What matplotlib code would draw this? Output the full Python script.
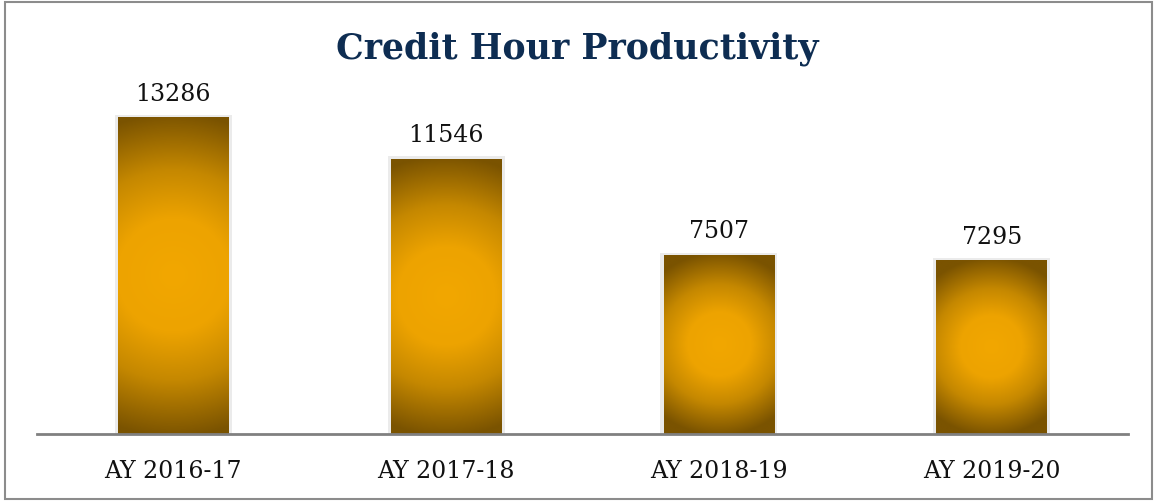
import numpy as np
import matplotlib.pyplot as plt
from matplotlib.colors import LinearSegmentedColormap
from matplotlib.patches import Rectangle

# Data
years = ['AY 2016-17', 'AY 2017-18', 'AY 2018-19', 'AY 2019-20']
credit_hours = [13286, 11546, 7507, 7295]

plt.rcParams['font.family'] = ['DejaVu Serif']

fig = plt.figure(figsize=(11.54, 5.02), dpi=100)
ax = fig.add_axes([37 / 1154, 67 / 502, 1091 / 1154, 350 / 502])

# Radial gradient: bright orange in the middle, dark brown towards top/bottom/corners
cmap = LinearSegmentedColormap.from_list(
    'gold', [(0, '#F2A700'), (0.35, '#EDA300'), (0.65, '#C58800'), (1.0, '#7A5300')])

width = 0.405
x = np.arange(len(years))
bars = ax.bar(x, credit_hours, width, color='none', zorder=2)
ypx = 350 / 14669  # pixels per unit, to keep the gradient round
for b, val in zip(bars, credit_hours):
    x0, w, h = b.get_x(), b.get_width(), b.get_height()
    wpx, hpx = 110, h * ypx
    gx, gy = np.meshgrid(np.linspace(-wpx / 2, wpx / 2, 120), np.linspace(-hpx / 2, hpx / 2, 320))
    r = np.clip(np.sqrt(gx ** 2 + gy ** 2) / (hpx / 2 * 1.02), 0, 1)
    # light shadow around the bar
    ax.add_patch(Rectangle((x0 - 0.012, 0), w + 0.024, h + 90, color='#ebebeb', zorder=1, lw=0))
    im = ax.imshow(r, cmap=cmap, vmin=0, vmax=1, extent=[x0, x0 + w, 0, h],
                   origin='lower', aspect='auto', zorder=3, interpolation='bilinear')
    im.set_clip_path(b)
    ax.text(x0 + w / 2, h + 520, str(val), ha='center', va='bottom',
            fontsize=17, color='#111111')

ax.set_xlim(-0.5, 3.5)
ax.set_ylim(0, 14669)
ax.set_xticks(x)
ax.set_xticklabels(years, fontsize=17, color='#111111')
ax.tick_params(axis='x', length=0, pad=18)
ax.set_yticks([])
for s in ['top', 'right', 'left']:
    ax.spines[s].set_visible(False)
ax.spines['bottom'].set_color('#808080')
ax.spines['bottom'].set_linewidth(2)
ax.spines['bottom'].set_zorder(4)

fig.text(0.5, 0.903, 'Credit Hour Productivity', ha='center', va='center',
         fontsize=25, fontweight='bold', color='#0E2D52')

# outer border
fig.add_artist(Rectangle((0.004, 0.004), 0.994, 0.99, transform=fig.transFigure,
                         fill=False, edgecolor='#8c8c8c', lw=1.5))

plt.savefig('out.png', dpi=100)
